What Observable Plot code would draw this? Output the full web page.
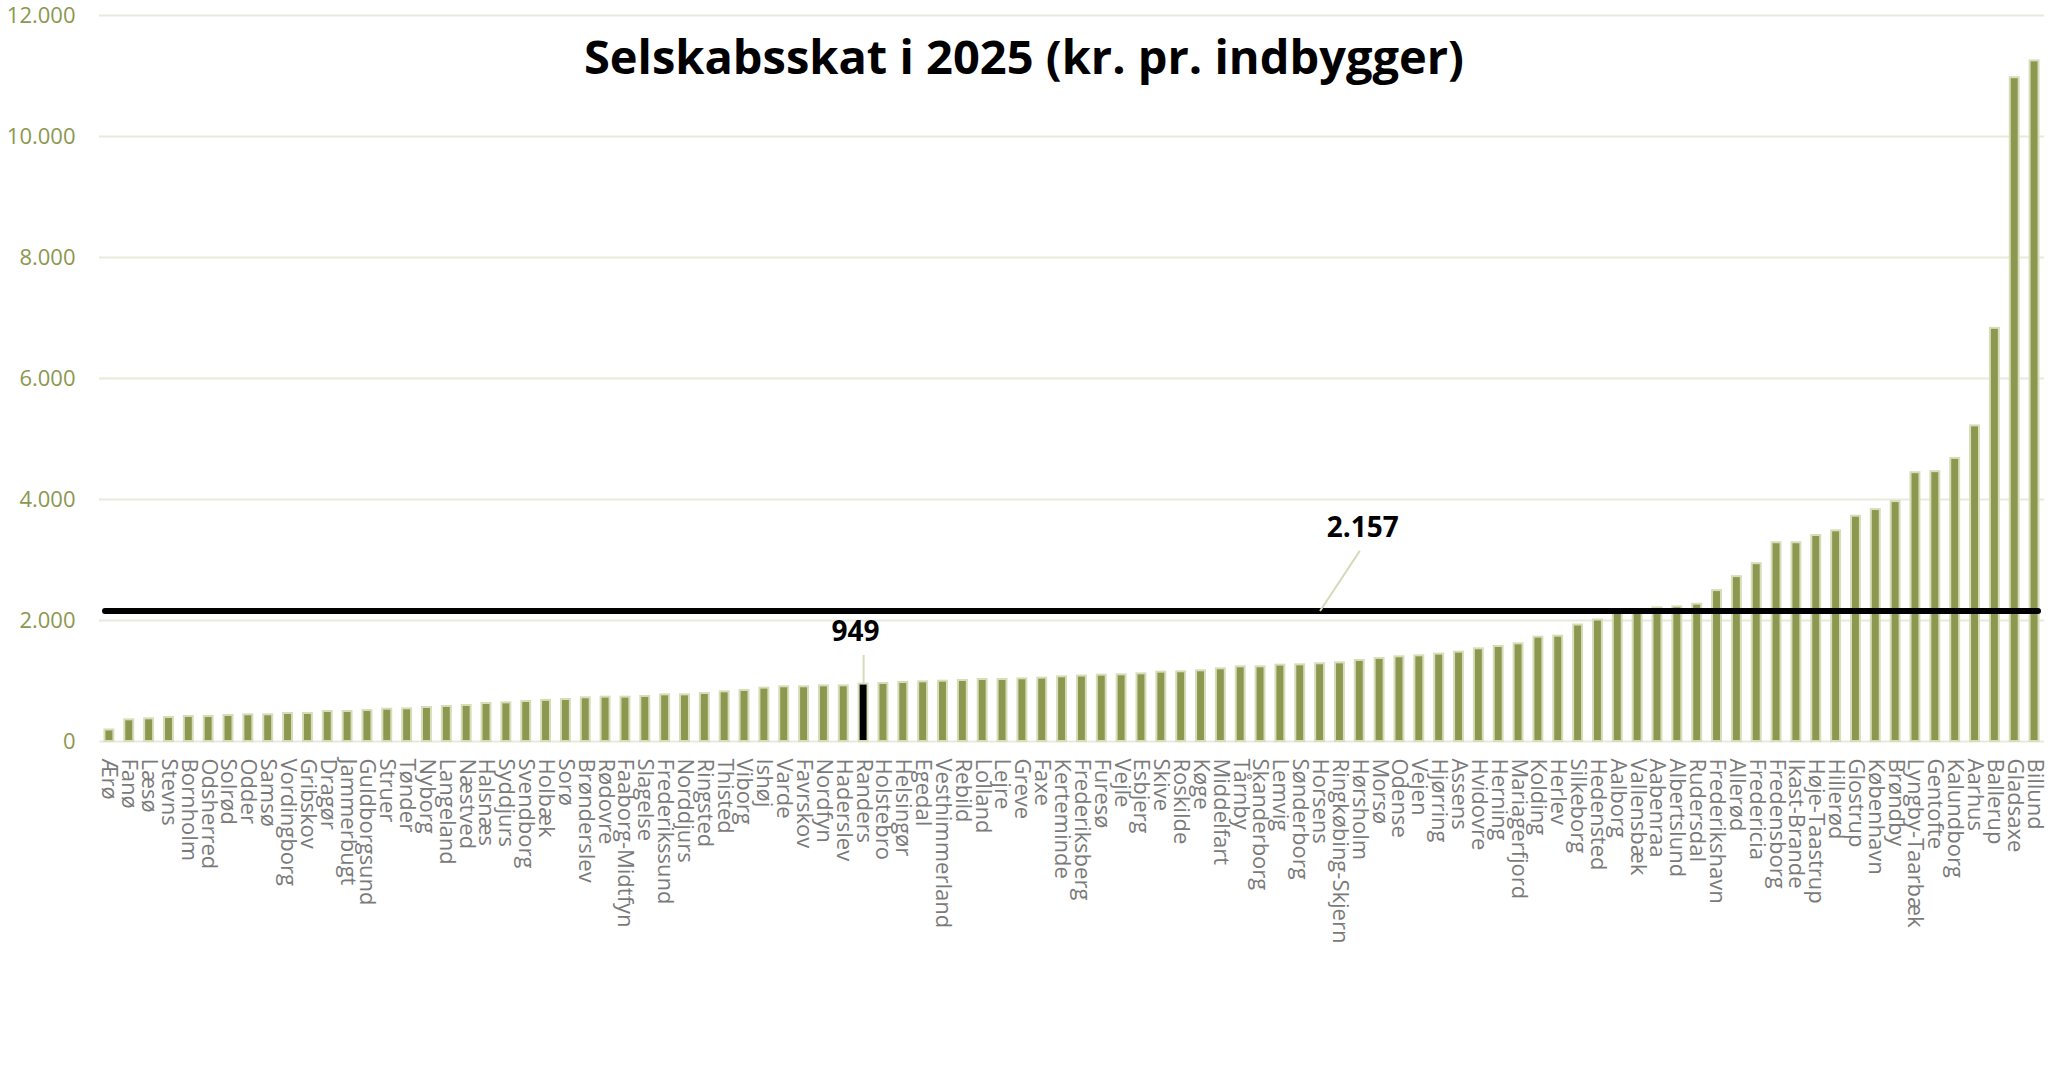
<!DOCTYPE html>
<html>
<head>
<meta charset="utf-8">
<script src="https://cdn.jsdelivr.net/npm/d3@7"></script>
<script src="https://cdn.jsdelivr.net/npm/@observablehq/plot@0.6"></script>
<style>
  html, body { margin: 0; padding: 0; background: #fff; }
  #chart svg { display: block; font-family: "Open Sans", sans-serif; }
</style>
</head>
<body>
<div id="chart"></div>
<script>
// Municipalities, sorted ascending
const municipalities = [
  "Ærø","Fanø","Læsø","Stevns","Bornholm","Odsherred","Solrød","Odder","Samsø","Vordingborg",
  "Gribskov","Dragør","Jammerbugt","Guldborgsund","Struer","Tønder","Nyborg","Langeland","Næstved","Halsnæs",
  "Syddjurs","Svendborg","Holbæk","Sorø","Brønderslev","Rødovre","Faaborg-Midtfyn","Slagelse","Frederikssund","Norddjurs",
  "Ringsted","Thisted","Viborg","Ishøj","Varde","Favrskov","Nordfyn","Haderslev","Randers","Holstebro",
  "Helsingør","Egedal","Vesthimmerland","Rebild","Lolland","Lejre","Greve","Faxe","Kerteminde","Frederiksberg",
  "Furesø","Vejle","Esbjerg","Skive","Roskilde","Køge","Middelfart","Tårnby","Skanderborg","Lemvig",
  "Sønderborg","Horsens","Ringkøbing-Skjern","Hørsholm","Morsø","Odense","Vejen","Hjørring","Assens","Hvidovre",
  "Herning","Mariagerfjord","Kolding","Herlev","Silkeborg","Hedensted","Aalborg","Vallensbæk","Aabenraa","Albertslund",
  "Rudersdal","Frederikshavn","Allerød","Fredericia","Fredensborg","Ikast-Brande","Høje-Taastrup","Hillerød","Glostrup","København",
  "Brøndby","Lyngby-Taarbæk","Gentofte","Kalundborg","Aarhus","Ballerup","Gladsaxe","Billund"
];
// Selskabsskat 2025, kr. per indbygger
const values = [
  190,358,375,397,413,413,430,441,441,463,
  463,496,496,512,534,540,562,579,595,628,
  639,661,680,694,722,733,733,744,771,771,
  793,821,843,882,904,904,920,920,949,959,
  975,986,997,1008,1025,1025,1036,1047,1069,1082,
  1096,1102,1118,1146,1152,1168,1201,1234,1234,1262,
  1267,1284,1300,1339,1372,1400,1416,1444,1477,1532,
  1570,1614,1725,1741,1925,2008,2120,2140,2209,2225,
  2269,2494,2725,2939,3285,3285,3405,3482,3724,3834,
  3965,4443,4460,4679,5217,6829,10972,11250
];
const yTicks = [0, 2000, 4000, 6000, 8000, 10000, 12000];
const titleText = "Selskabsskat i 2025 (kr. pr. indbygger)";
const highlightName = "Randers";
const highlightValue = 949;
const meanValue = 2157;
// annotation leader anchors (category, value)
const meanLeader = [{x1: "Horsens", y1: 2157, x2: "Hørsholm", y2: 3150}];
const meanLabel = [{x: "Hørsholm", y: 2157}];
const highlightLeader = [{x: "Randers", y1: 949, y2: 1430}];

const fmt = d => d3.format(",")(d).replace(/,/g, ".");
const data = municipalities.map((name, i) => ({name, value: values[i]}));

const olive = "#8c9750";
const oliveLight = "#d8ddb9";

const chart = Plot.plot({
  width: 2053,
  height: 1075,
  marginTop: 15,
  marginBottom: 334,
  marginLeft: 99,
  marginRight: 9,
  style: {fontFamily: "'Open Sans', sans-serif", background: "#fff"},
  x: {domain: municipalities, paddingInner: 0.55, paddingOuter: 0.275, label: null},
  y: {domain: [0, 12000], label: null},
  marks: [
    Plot.gridY(yTicks, {stroke: "#e8ebdc", strokeOpacity: 1, strokeWidth: 2}),
    Plot.barY(data, {
      x: "name", y: "value",
      fill: d => d.name === highlightName ? "#000" : olive,
      stroke: oliveLight, strokeWidth: 2
    }),
    Plot.ruleY([meanValue], {stroke: "#000", strokeWidth: 6, strokeLinecap: "round", insetLeft: 6, insetRight: 6}),
    Plot.link(meanLeader, {x1: "x1", y1: "y1", x2: "x2", y2: "y2", stroke: "#d5dbb8", strokeWidth: 2}),
    Plot.link(highlightLeader, {x1: "x", x2: "x", y1: "y1", y2: "y2", stroke: "#d5dbb8", strokeWidth: 2}),
    Plot.text(meanLabel, {x: "x", y: "y", text: () => fmt(meanValue), dy: -83, dx: 3, fontSize: 28, fontWeight: "bold", fill: "#000"}),
    Plot.text([highlightValue], {x: () => highlightName, y: d => d, text: d => fmt(d), dy: -52, dx: -8, fontSize: 28, fontWeight: "bold", fill: "#000"}),
    Plot.text([titleText], {frameAnchor: "top", lineAnchor: "middle", dy: 43, dx: -48, fontSize: 47, fontWeight: "bold", fill: "#000"}),
    Plot.axisX({tickRotate: 90, tickSize: 0, tickPadding: 17, fontSize: 22, color: "#7a7a7a", label: null}),
    Plot.axisY({ticks: yTicks, tickFormat: fmt, tickSize: 0, tickPadding: 24, fontSize: 22, color: olive, label: null})
  ]
});
document.getElementById("chart").appendChild(chart);
</script>
</body>
</html>
